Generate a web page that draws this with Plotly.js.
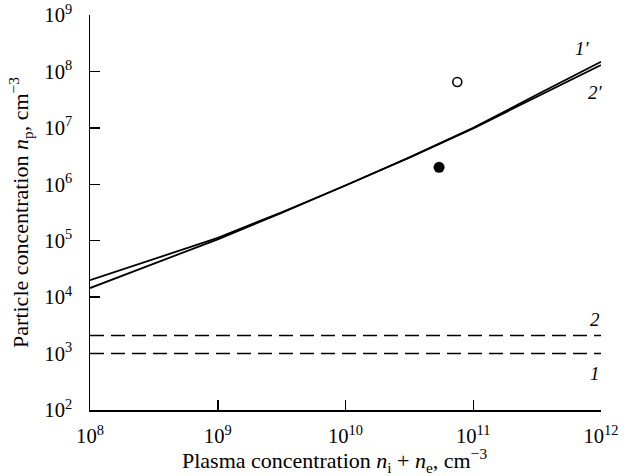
<!DOCTYPE html>
<html>
<head>
<meta charset="utf-8">
<script src="https://cdn.plot.ly/plotly-3.0.1.min.js"></script>
<style>html,body{margin:0;padding:0;background:#fff;}#chart{width:629px;height:476px;}</style>
</head>
<body>
<div id="chart"></div>
<script>
// Data
const plasmaConc = [1e8, 1e9, 3.16e9, 1e10, 3.16e10, 1e11, 3.16e11, 1e12];
const curve1p = [2.0e4, 1.12e5, 3.2e5, 9.5e5, 3.0e6, 1.0e7, 3.9e7, 1.48e8];   // 1'
const curve2p = [1.45e4, 1.06e5, 3.1e5, 9.5e5, 2.95e6, 9.8e6, 3.6e7, 1.3e8];  // 2'
const dashX = [1e8, 1e12];
const level1 = [1.0e3, 1.0e3];   // 1
const level2 = [2.1e3, 2.1e3];   // 2
const openPointX = [7.5e10], openPointY = [6.5e7];
const filledPointX = [5.4e10], filledPointY = [2.0e6];
const curveLabels = ["1′", "2′", "2", "1"];
const xTitle = "Plasma concentration <i>n</i><sub>i</sub> + <i>n</i><sub>e</sub>, cm<sup>−3</sup>";
const yTitle = "Particle concentration <i>n</i><sub>p</sub>, cm<sup>−3</sup>";

const serif = "Liberation Serif";
const black = "#000";

const traces = [
  {x: plasmaConc, y: curve1p, mode: "lines", line: {color: black, width: 1.8}, name: "1′"},
  {x: plasmaConc, y: curve2p, mode: "lines", line: {color: black, width: 1.8}, name: "2′"},
  {x: dashX, y: level2, mode: "lines", line: {color: black, width: 1.5, dash: "14px,7px"}, name: "2"},
  {x: dashX, y: level1, mode: "lines", line: {color: black, width: 1.5, dash: "14px,7px"}, name: "1"},
  {x: openPointX, y: openPointY, mode: "markers", marker: {symbol: "circle-open", size: 9, color: black, line: {width: 1.6, color: black}}},
  {x: filledPointX, y: filledPointY, mode: "markers", marker: {symbol: "circle", size: 11, color: black}}
];

const labelPos = [[11.857, 8.41], [11.953, 7.63], [11.953, 3.61], [11.953, 2.65]];
const annotations = curveLabels.map((t, i) => ({
  x: labelPos[i][0], y: labelPos[i][1], xref: "x", yref: "y",
  text: "<i>" + t + "</i>", showarrow: false,
  font: {family: serif, size: 19, color: black}
}));
annotations.push({
  x: 0.479, y: -0.128, xref: "paper", yref: "paper", xanchor: "center", yanchor: "middle",
  text: xTitle, showarrow: false, font: {family: serif, size: 22, color: black}
});

const layout = {
  width: 629, height: 476,
  margin: {l: 90, r: 28, t: 15, b: 66},
  paper_bgcolor: "#fff", plot_bgcolor: "#fff",
  showlegend: false,
  font: {family: serif, size: 19, color: black},
  xaxis: {
    type: "log", range: [8, 12], dtick: 1, exponentformat: "power",
    showgrid: false, zeroline: false, showline: true, linecolor: black, linewidth: 1.5,
    ticks: "inside", ticklen: 10, tickwidth: 1.5, tickcolor: black,
    ticklabelstandoff: 8, ticklabeloverflow: "allow",
    tickfont: {family: serif, size: 16.5, color: black}
  },
  yaxis: {
    type: "log", range: [2, 9], dtick: 1, exponentformat: "power",
    showgrid: false, zeroline: false, showline: true, linecolor: black, linewidth: 1.5,
    ticks: "inside", ticklen: 10, tickwidth: 1.5, tickcolor: black,
    ticklabelstandoff: 13, ticklabeloverflow: "allow",
    tickfont: {family: serif, size: 16.5, color: black},
    title: {text: yTitle, font: {family: serif, size: 22, color: black}, standoff: 9}
  },
  annotations: annotations
};

Plotly.newPlot("chart", traces, layout, {displayModeBar: false, staticPlot: true});
</script>
</body>
</html>
